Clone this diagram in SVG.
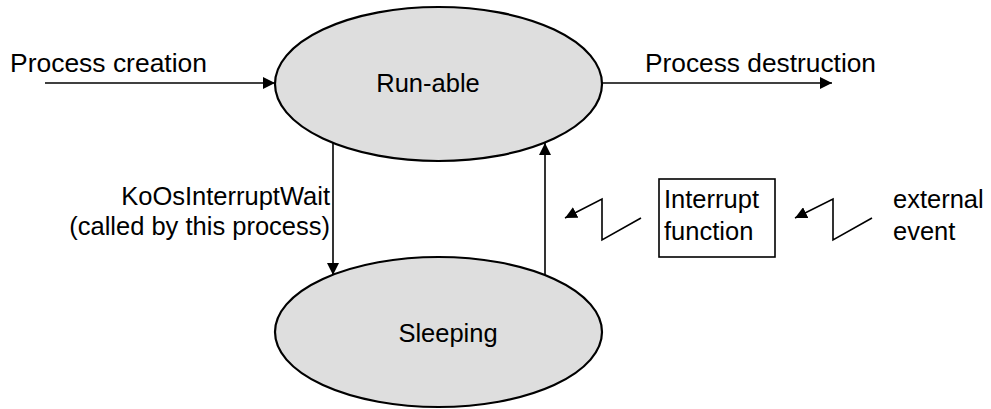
<svg xmlns="http://www.w3.org/2000/svg" width="991" height="409" viewBox="0 0 991 409">
  <style>
    text { font-family: "Liberation Sans", Arial, sans-serif; font-size: 25.5px; fill: #000; }
    .state { fill: #dedede; stroke: #000; stroke-width: 2.2; }
    .edge { fill: none; stroke: #000; stroke-width: 1.6; }
    .box { fill: #fff; stroke: #000; stroke-width: 1.6; }
  </style>
  <defs>
    <marker id="arrow" viewBox="0 0 12 12" refX="12" refY="6" markerWidth="12" markerHeight="12" markerUnits="userSpaceOnUse" orient="auto">
      <path d="M0,0 L12,6 L0,12 Z" fill="#000"/>
    </marker>
  </defs>

  <!-- states -->
  <g id="runable">
    <ellipse class="state" cx="438.5" cy="84" rx="163.5" ry="77"/>
    <text x="428" y="92" text-anchor="middle">Run-able</text>
  </g>
  <g id="sleeping">
    <ellipse class="state" cx="438.5" cy="332" rx="163.5" ry="75"/>
    <text x="448" y="342" text-anchor="middle">Sleeping</text>
  </g>
  <g id="interrupt-function">
    <rect class="box" x="659" y="179" width="116" height="78"/>
    <text x="664" y="208">Interrupt</text>
    <text x="664" y="240">function</text>
  </g>
  <g id="external-event">
    <text x="893" y="208">external</text>
    <text x="893" y="240">event</text>
  </g>

  <!-- connectors -->
  <g id="connectors">
    <line class="edge" x1="45" y1="83" x2="275" y2="83" marker-end="url(#arrow)"/>
    <line class="edge" x1="602" y1="83" x2="832" y2="83" marker-end="url(#arrow)"/>
    <line class="edge" x1="333" y1="143" x2="333" y2="275" marker-end="url(#arrow)"/>
    <line class="edge" x1="545" y1="275" x2="545" y2="143" marker-end="url(#arrow)"/>
    <polyline class="edge" points="641,218 602,240 602,199 565,218" marker-end="url(#arrow)"/>
    <polyline class="edge" points="872,218 833,240 833,199 795,218" marker-end="url(#arrow)"/>
  </g>

  <!-- connector labels -->
  <g id="labels">
    <text x="10" y="72" textLength="197" lengthAdjust="spacingAndGlyphs">Process creation</text>
    <text x="645" y="72" textLength="231" lengthAdjust="spacingAndGlyphs">Process destruction</text>
    <text x="330" y="205" text-anchor="end">KoOsInterruptWait</text>
    <text x="330" y="235" text-anchor="end">(called by this process)</text>
  </g>
</svg>
